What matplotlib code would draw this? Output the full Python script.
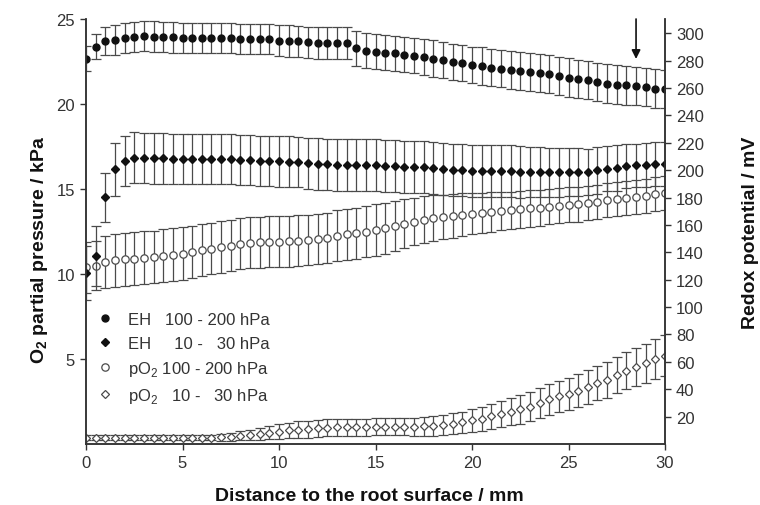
import numpy as np
import matplotlib
matplotlib.use('Agg')
import matplotlib.pyplot as plt

plt.rcParams['font.family'] = ['Liberation Sans', 'DejaVu Sans']
plt.rcParams['mathtext.fontset'] = 'custom'
plt.rcParams['mathtext.rm'] = 'Liberation Sans'
plt.rcParams['mathtext.bf'] = 'Liberation Sans:bold'

#%% data, distance step 0.5 mm
distance = np.arange(61) * 0.5   # 0 ... 30 mm

# Redox potential, 100 - 200 hPa [mV]
eh_high = [281.6, 290.3, 294.5, 295.0, 296.7, 297.5, 298.0, 297.7, 297.2, 297.0,
           296.7, 296.7, 296.5, 296.5, 296.5, 296.5, 296.2, 296.2, 296.2, 296.2,
           294.7, 294.4, 294.2, 293.5, 293.0, 293.0, 293.0, 293.0, 289.0, 287.4,
           286.7, 286.0, 285.5, 284.5, 283.5, 282.6, 281.6, 280.6, 279.4, 278.2,
           277.0, 276.2, 275.0, 274.3, 273.3, 272.3, 271.6, 271.2, 270.1, 268.9,
           267.7, 266.7, 265.7, 264.5, 263.3, 262.6, 262.0, 261.6, 260.6, 259.7,
           259.2]
eh_high_err = [9.0, 9.0, 10.3, 11.0, 11.0, 11.0, 11.0, 11.0, 11.0, 11.0,
               11.0, 11.0, 11.0, 11.0, 11.0, 11.0, 11.0, 11.0, 11.0, 11.0,
               11.5, 11.5, 11.5, 11.5, 11.5, 11.5, 11.5, 11.5, 12.5, 12.8,
               12.8, 12.8, 12.8, 12.8, 12.8, 13.2, 13.2, 13.2, 13.2, 13.2,
               13.2, 13.8, 13.8, 13.8, 13.8, 13.8, 14.0, 14.0, 14.0, 14.0,
               14.0, 14.0, 14.0, 14.0, 14.0, 14.0, 14.0, 14.0, 14.0, 14.0,
               14.0]

# Redox potential, 10 - 30 hPa [mV]
eh_low = [125.0, 137.1, 180.3, 200.7, 206.8, 209.3, 208.9, 208.6, 208.6, 208.4,
          208.1, 207.9, 207.9, 207.9, 208.1, 208.0, 207.4, 207.2, 207.0, 207.0,
          206.5, 206.2, 206.0, 205.0, 204.5, 204.2, 204.0, 203.7, 203.7, 203.5,
          203.5, 203.2, 203.0, 202.7, 202.5, 202.2, 201.7, 201.2, 200.5, 200.0,
          199.5, 199.3, 199.3, 199.3, 199.3, 199.0, 198.6, 198.6, 198.6, 198.6,
          198.6, 198.6, 198.8, 200.0, 201.0, 201.7, 203.0, 203.5, 204.0, 204.5,
          204.7]
eh_low_err = [20.0, 22.0, 18.0, 19.4, 18.3, 18.3, 18.3, 18.3, 18.3, 18.3,
              18.3, 18.3, 18.3, 18.3, 18.3, 18.3, 18.3, 18.3, 18.3, 18.3,
              18.5, 18.5, 18.5, 18.8, 18.8, 18.8, 19.0, 19.0, 19.0, 19.0,
              19.0, 19.0, 19.0, 19.0, 19.0, 19.0, 19.0, 19.0, 19.0, 19.0,
              19.0, 19.0, 19.0, 19.0, 19.0, 19.0, 18.5, 18.5, 18.0, 18.0,
              17.5, 17.5, 17.0, 17.0, 16.5, 16.5, 16.0, 16.0, 16.0, 16.0,
              16.0]

# O2 partial pressure, 100 - 200 hPa [kPa]
po2_high = [10.40, 10.50, 10.70, 10.80, 10.86, 10.90, 10.96, 11.00, 11.08, 11.14,
            11.20, 11.30, 11.40, 11.50, 11.57, 11.67, 11.78, 11.84, 11.86, 11.90,
            11.90, 11.94, 11.96, 12.00, 12.06, 12.12, 12.25, 12.33, 12.40, 12.50,
            12.60, 12.70, 12.84, 12.96, 13.08, 13.18, 13.27, 13.35, 13.40, 13.50,
            13.55, 13.60, 13.65, 13.70, 13.75, 13.80, 13.86, 13.90, 13.97, 14.02,
            14.06, 14.10, 14.18, 14.25, 14.33, 14.40, 14.50, 14.55, 14.60, 14.70,
            14.76]
po2_high_err = [1.50, 1.47, 1.55, 1.55, 1.55, 1.55, 1.55, 1.55, 1.55, 1.55,
                1.55, 1.55, 1.52, 1.52, 1.52, 1.50, 1.50, 1.50, 1.50, 1.50,
                1.50, 1.50, 1.50, 1.48, 1.48, 1.47, 1.50, 1.50, 1.50, 1.52,
                1.53, 1.50, 1.47, 1.44, 1.40, 1.38, 1.35, 1.32, 1.28, 1.24,
                1.20, 1.18, 1.15, 1.12, 1.10, 1.08, 1.07, 1.06, 1.05, 1.04,
                1.03, 1.02, 1.01, 1.00, 1.00, 1.00, 1.00, 1.00, 1.00, 1.00,
                1.00]

# O2 partial pressure, 10 - 30 hPa [kPa]
po2_low = [0.38, 0.38, 0.38, 0.38, 0.38, 0.38, 0.38, 0.38, 0.38, 0.38,
           0.38, 0.38, 0.38, 0.38, 0.40, 0.43, 0.48, 0.53, 0.59, 0.66,
           0.73, 0.80, 0.85, 0.88, 0.92, 0.96, 0.98, 0.99, 1.00, 1.00,
           1.01, 1.01, 1.01, 1.01, 1.02, 1.04, 1.06, 1.12, 1.20, 1.27,
           1.39, 1.47, 1.63, 1.75, 1.90, 2.03, 2.18, 2.41, 2.62, 2.80,
           2.94, 3.14, 3.37, 3.59, 3.78, 4.06, 4.31, 4.55, 4.74, 5.00,
           5.20]
po2_low_err = [0.16, 0.16, 0.16, 0.16, 0.16, 0.16, 0.16, 0.16, 0.16, 0.16,
               0.16, 0.16, 0.16, 0.17, 0.20, 0.23, 0.27, 0.31, 0.35, 0.39,
               0.42, 0.45, 0.48, 0.50, 0.50, 0.50, 0.50, 0.50, 0.50, 0.50,
               0.50, 0.50, 0.50, 0.50, 0.52, 0.54, 0.56, 0.58, 0.60, 0.63,
               0.66, 0.70, 0.73, 0.77, 0.80, 0.83, 0.85, 0.87, 0.90, 0.92,
               0.93, 0.96, 1.00, 1.02, 1.05, 1.08, 1.10, 1.12, 1.15, 1.18,
               1.20]

labels = ['EH   100 - 200 hPa', 'EH     10 -   30 hPa',
          r'pO$_\mathrm{2}$ 100 - 200 hPa', r'pO$_\mathrm{2}$   10 -   30 hPa']

arrow_x, arrow_from, arrow_to = 28.5, 25.0, 22.65   # kPa axis

#%% figure
grey = '#4a4a4a'
txt = '#333333'
fig = plt.figure(figsize=(7.6, 5.06), dpi=100)
ax = fig.add_axes([86/760, 61/506, 579/760, 425/506])
ax2 = ax.twinx()

eb = dict(fmt='none', ecolor=grey, elinewidth=0.9, capsize=3.5, capthick=0.9)

ax.errorbar(distance, po2_high, yerr=po2_high_err, **eb)
ax.errorbar(distance, po2_low, yerr=po2_low_err, **eb)
ax2.errorbar(distance, eh_high, yerr=eh_high_err, **eb)
ax2.errorbar(distance, eh_low, yerr=eh_low_err, **eb)

h1, = ax2.plot(distance, eh_high, 'o', ms=5, color='#111111', label=labels[0])
h2, = ax2.plot(distance, eh_low, 'D', ms=3.6, color='#111111', label=labels[1])
h3, = ax.plot(distance, po2_high, 'o', ms=5.3, mfc='white', mec=grey, mew=0.9,
              label=labels[2])
h4, = ax.plot(distance, po2_low, 'D', ms=3.7, mfc='white', mec=grey, mew=0.9,
              label=labels[3])

ax.annotate('', xy=(arrow_x, arrow_to), xytext=(arrow_x, arrow_from),
            arrowprops=dict(arrowstyle='-|>', color='#111111', lw=1.2,
                            mutation_scale=13, shrinkA=0, shrinkB=0))

ax.set_xlim(0, 30)
ax.set_ylim(0, 25)
ax2.set_ylim(0, 310.5)
ax.set_xticks([0, 5, 10, 15, 20, 25, 30])
ax.set_yticks([5, 10, 15, 20, 25])
ax2.set_yticks(np.arange(20, 301, 20))

for a in (ax, ax2):
    a.spines['top'].set_visible(False)
    for s in a.spines.values():
        s.set_linewidth(1.1)
        s.set_color(txt)
    a.tick_params(direction='out', length=4.5, width=1, colors=txt,
                  labelsize=12, labelcolor=txt)

ax.set_xlabel('Distance to the root surface / mm', fontsize=14,
              fontweight='bold', color='#111111')
ax.set_ylabel(r'$\mathbf{O_2}$ partial pressure / kPa', fontsize=14,
              fontweight='bold', color='#111111')
ax2.set_ylabel('Redox potential / mV', fontsize=14, fontweight='bold',
               color='#111111')
ax.xaxis.set_label_coords(0.489, -0.122)
ax.yaxis.set_label_coords(-0.081, 0.46)
ax2.yaxis.set_label_coords(1.1485, 0.5)
for lab in (ax.xaxis.label, ax.yaxis.label, ax2.yaxis.label):
    lab.set_va('center')
    lab.set_ha('center')

ax2.legend(handles=[h1, h2, h3, h4], loc='upper left',
           bbox_to_anchor=(0.0185, 0.31), frameon=False, fontsize=12,
           handlelength=1.0, handletextpad=0.85, borderpad=0,
           borderaxespad=0, labelspacing=0.5, labelcolor=txt)

fig.savefig('out.png', dpi=100)
